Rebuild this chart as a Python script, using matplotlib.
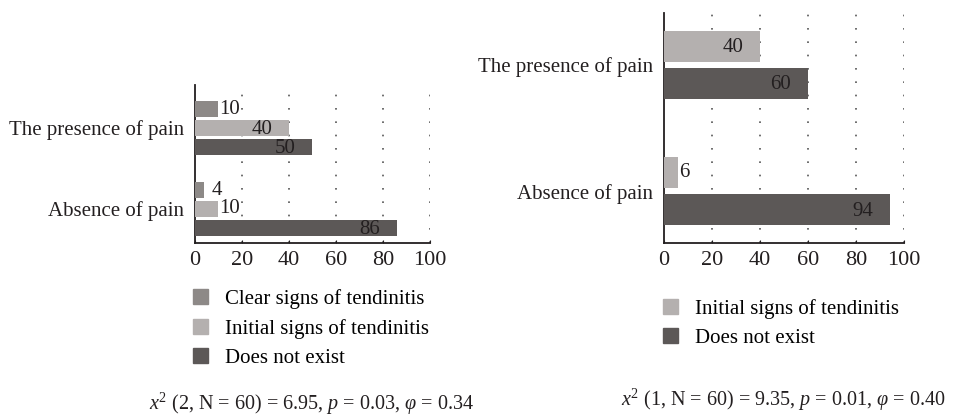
import matplotlib.pyplot as plt
from matplotlib.patches import Patch

plt.rcParams['font.family'] = ['Liberation Serif', 'DejaVu Serif']
plt.rcParams['mathtext.fontset'] = 'custom'
plt.rcParams['mathtext.rm'] = 'Liberation Serif'
plt.rcParams['mathtext.it'] = 'Liberation Serif:italic'

# data
categories = ["Absence of pain", "The presence of pain"]
left_series = ["Clear signs of tendinitis", "Initial signs of tendinitis", "Does not exist"]
left_values = [[4, 10], [10, 40], [86, 50]]        # per series: [absence, presence]
right_series = ["Initial signs of tendinitis", "Does not exist"]
right_values = [[6, 40], [94, 60]]
left_stat = r"$x^2$ (2, N = 60) = 6.95, $p$ = 0.03, $\varphi$ = 0.34"
right_stat = r"$x^2$ (1, N = 60) = 9.35, $p$ = 0.01, $\varphi$ = 0.40"
xticks = [0, 20, 40, 60, 80, 100]

colors = {"Clear signs of tendinitis": "#8d8987",
          "Initial signs of tendinitis": "#b4b0af",
          "Does not exist": "#5c5857"}

fig = plt.figure(figsize=(9.54, 4.19), dpi=100)


def draw(ax, series, values, offsets, height, ylim):
    for name, vals, off in zip(series, values, offsets):
        ys = [i + off for i in range(len(categories))]
        bars = ax.barh(ys, vals, height=height, color=colors[name], zorder=3)
        for b, v in zip(bars, vals):
            y = b.get_y() + b.get_height() / 2
            if v >= 20:
                ax.annotate(str(v), (v, y), xytext=(-12, -1), textcoords="offset points",
                            ha="right", va="center", fontsize=15, color="#231f20", zorder=4)
            else:
                ax.annotate(str(v), (v, y), xytext=(0.5 if v >= 6 else 5, 0), textcoords="offset points",
                            ha="left", va="center", fontsize=15, color="#231f20", zorder=4)
    ax.set_xlim(0, 100)
    ax.set_ylim(*ylim)
    ax.set_xticks(xticks)
    ax.set_yticks(range(len(categories)))
    ax.set_yticklabels(categories, fontsize=15, color="#231f20")
    ax.tick_params(axis="x", direction="in", length=2, labelsize=16, pad=6, colors="#231f20")
    ax.tick_params(axis="y", length=0, pad=8)
    for s in ["top", "right"]:
        ax.spines[s].set_visible(False)
    for s in ["left", "bottom"]:
        ax.spines[s].set_linewidth(1.3)
        ax.spines[s].set_color("#231f20")
    for x in xticks[1:]:
        ax.axvline(x, color="#555555", linestyle=(0, (1, 7)), linewidth=1.2, zorder=1)


ax1 = fig.add_axes([0.2044, 0.42, 0.2463, 0.377])
draw(ax1, left_series, left_values, [0.23, 0, -0.23], 0.2, (-0.42, 1.53))

ax2 = fig.add_axes([0.696, 0.42, 0.2516, 0.549])
draw(ax2, right_series, right_values, [0.147, -0.147], 0.246, (-0.41, 1.41))

legend_kw = dict(loc="upper left", frameon=False, fontsize=15, handlelength=0.72,
                 handleheight=0.72, handletextpad=0.8, labelspacing=0.46,
                 borderaxespad=0, borderpad=0)
h1 = [Patch(color=colors[n]) for n in left_series]
fig.legend(h1, left_series, bbox_to_anchor=(0.2023, 0.31), **legend_kw)
h2 = [Patch(color=colors[n]) for n in right_series]
fig.legend(h2, right_series, bbox_to_anchor=(0.695, 0.287), **legend_kw)

fig.text(0.327, 0.036, left_stat, ha="center", va="center", fontsize=14.5, color="#231f20")
fig.text(0.821, 0.045, right_stat, ha="center", va="center", fontsize=14.5, color="#231f20")

fig.savefig("out.png", dpi=100)
